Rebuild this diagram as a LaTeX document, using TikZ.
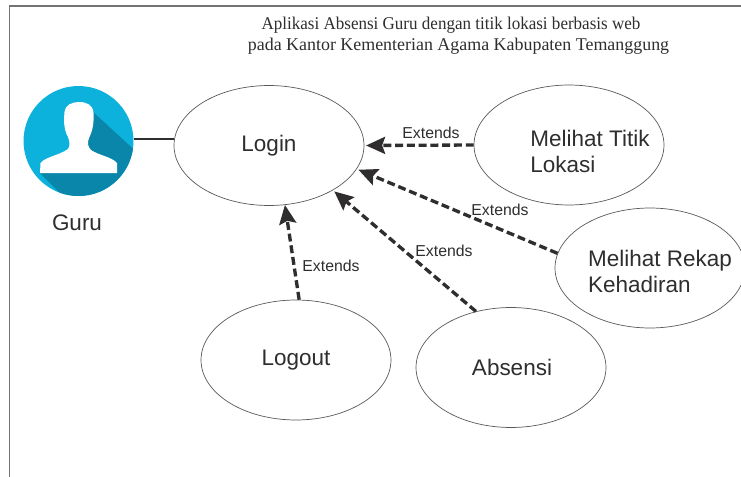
\documentclass[tikz,border=0pt]{standalone}
\usepackage{fontspec}
\setmainfont{Liberation Sans}
\newfontfamily\titlefont{Liberation Serif}
\usetikzlibrary{shapes.geometric,arrows.meta}

\definecolor{avatarlight}{HTML}{0CB2DC}
\definecolor{avatardark}{HTML}{0A86AA}
\definecolor{textdark}{HTML}{2F2D2E}

\tikzset{
  usecase/.style={draw=black!65,line width=0.4pt,ellipse,minimum width=3.8cm,minimum height=2.4cm,inner sep=0pt,text=textdark,font=\fontsize{12.8}{15}\selectfont},
  casetext/.style={align=left,inner sep=0pt,text=textdark,font=\fontsize{12.8}{14.8}\selectfont},
  extendslabel/.style={inner sep=0pt,text=textdark,font=\fontsize{9}{11}\selectfont},
  titleline/.style={inner sep=0pt,text=textdark,font=\titlefont\fontsize{10.2}{12}\selectfont},
  extendsarrow/.style={-{Stealth[length=3.8mm,width=3.4mm,inset=0.6mm]},line width=1.9pt,dash pattern=on 4.5pt off 2.2pt,textdark}
}

\begin{document}
\begin{tikzpicture}[x=0.02cm,y=-0.02cm]
\useasboundingbox (0,0) rectangle (741,477);

% Frame
\coordinate (frametop) at (741,6);
\coordinate (framecorner) at (9.5,6);
\coordinate (framebottom) at (9.5,477);
\draw[black!55,line width=0.6pt] (frametop) -- (framecorner) -- (framebottom);

% Title
\node[titleline] (titlea) at (451,25) {\scalebox{0.95}[1]{Aplikasi Absensi Guru dengan titik lokasi berbasis web}};
\node[titleline] (titleb) at (458.5,46) {pada Kantor Kementerian Agama Kabupaten Temanggung};

% Actor
\node[circle,fill=avatarlight,minimum size=2.2cm,inner sep=0pt] (guru) at (78.5,141) {};
\begin{scope}
\clip (78.5,141) circle (55);
\fill[avatardark] (93,112) -- (140,155) -- (140,200) -- (67,200) -- (40,173) -- (80,160) -- cycle;
\end{scope}
\fill[white] (40,173) -- (40.5,163) .. controls (45,157) and (60,155) .. (68,149) .. controls (70,146) and (70,142) .. (68,137) .. controls (63,128) and (64,118) .. (64.5,112) .. controls (65,105) and (72,102) .. (79,102) .. controls (87,102) and (93,105) .. (93.5,113) .. controls (94,122) and (93,130) .. (89,138) .. controls (87,143) and (88,147) .. (91,150) .. controls (98,155) and (112,157) .. (117,163) -- (117,173) -- cycle;
\node[casetext] (gurutext) at (77,223) {Guru};

% Use cases
\node[usecase] (login) at (269,145.5) {Login};
\node[usecase] (lokasi) at (569,145) {};
\node[usecase] (rekap) at (650,268) {};
\node[usecase] (logout) at (296,360) {Logout};
\node[usecase] (absensi) at (511,367.5) {};
\node[casetext] (lokasitext) at (590,151) {Melihat Titik\\Lokasi};
\node[casetext] (rekaptext) at (660,271) {Melihat Rekap\\Kehadiran};
\node[casetext] (absensitext) at (512,367) {Absensi};

% Association
\draw[textdark,line width=1.5pt] (guru.2) -- (guru.2 -| login.west);

% Extends
\draw[extendsarrow,shorten >=1pt] (lokasi.west) -- (login.east);
\draw[extendsarrow,shorten >=1pt] (rekap.171) -- (login.-15);
\draw[extendsarrow,shorten >=1pt] (absensi.122) -- (login.-35);
\draw[extendsarrow,shorten >=0pt] (logout.87) -- (login.-75);
\node[extendslabel] (extendsa) at (431,133) {Extends};
\node[extendslabel] (extendsb) at (500,210) {Extends};
\node[extendslabel] (extendsc) at (444,251) {Extends};
\node[extendslabel] (extendsd) at (331,266) {Extends};
\end{tikzpicture}
\end{document}
